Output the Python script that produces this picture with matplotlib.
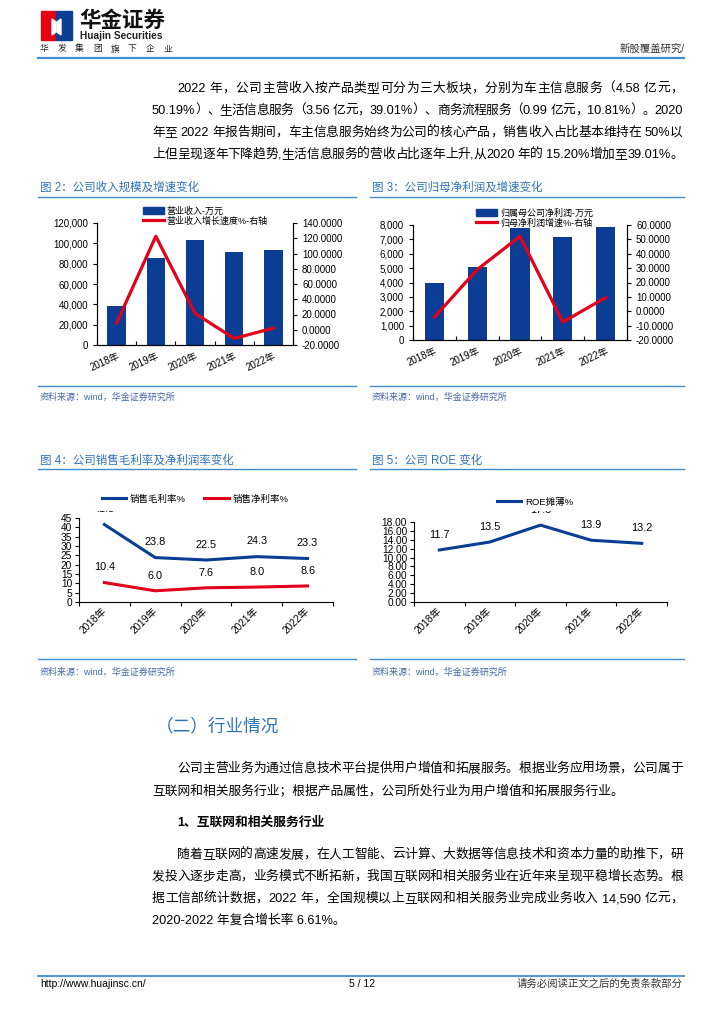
import re
import numpy as np
import matplotlib
matplotlib.use("Agg")
import matplotlib.pyplot as plt
from matplotlib.patches import Rectangle, Polygon, Patch
from matplotlib.lines import Line2D
from matplotlib.font_manager import FontProperties
from matplotlib.transforms import Bbox

FAMILY = ["Liberation Sans", "Noto Sans CJK SC", "DejaVu Sans"]
plt.rcParams["font.family"] = FAMILY
plt.rcParams["axes.unicode_minus"] = False

# ---- data ----
years = ["2018年", "2019年", "2020年", "2021年", "2022年"]
revenue = [38200, 85100, 103000, 91100, 93100]          # 营业收入-万元
revenue_growth = [8.8, 122.6, 21.5, -11.4, 2.2]          # 营业收入增长速度%
net_profit = [3960, 5110, 7770, 7180, 7860]              # 归属母公司净利润-万元
profit_growth = [-4.1, 29.0, 52.1, -7.5, 9.5]            # 归母净利润增速%
gross_margin = [41.5, 23.8, 22.5, 24.3, 23.3]            # 销售毛利率%
net_margin = [10.4, 6.0, 7.6, 8.0, 8.6]                  # 销售净利率%
roe = [11.7, 13.5, 17.3, 13.9, 13.2]                     # ROE摊薄%

para_top = [
    "2022 年，公司主营收入按产品类型可分为三大板块，分别为车主信息服务（4.58 亿元，",
    "50.19%）、生活信息服务（3.56 亿元，39.01%）、商务流程服务（0.99 亿元，10.81%）。2020",
    "年至 2022 年报告期间，车主信息服务始终为公司的核心产品，销售收入占比基本维持在 50%以",
    "上但呈现逐年下降趋势,生活信息服务的营收占比逐年上升,从2020 年的 15.20%增加至39.01%。",
]
para_mid = [
    "公司主营业务为通过信息技术平台提供用户增值和拓展服务。根据业务应用场景，公司属于",
    "互联网和相关服务行业；根据产品属性，公司所处行业为用户增值和拓展服务行业。",
]
para_low = [
    "随着互联网的高速发展，在人工智能、云计算、大数据等信息技术和资本力量的助推下，研",
    "发投入逐步走高，业务模式不断拓新，我国互联网和相关服务业在近年来呈现平稳增长态势。根",
    "据工信部统计数据，2022 年，全国规模以上互联网和相关服务业完成业务收入 14,590 亿元，",
    "2020-2022 年复合增长率 6.61%。",
]

BAR_BLUE = "#0A3D93"
RED = "#E2001A"
LINE_BLUE = "#3E8ED3"
TITLE_BLUE = "#2F72B8"
SRC_BLUE = "#4467A8"

W, H = 724, 1024
fig = plt.figure(figsize=(W / 100, H / 100), dpi=100)
renderer = fig.canvas.get_renderer()


def txt(x, y, s, **kw):
    return fig.text(x / W, 1 - y / H, s, **kw)


def hline(x0, x1, y, color=LINE_BLUE, lw=1.3):
    fig.add_artist(Line2D([x0 / W, x1 / W], [1 - y / H] * 2, color=color, lw=lw))


def axes_px(l, t, r, b):
    return fig.add_axes([l / W, 1 - b / H, (r - l) / W, (b - t) / H])


def text_line(s, x0, y, x1=None, size=9.2, weight="normal", color="black"):
    prop = FontProperties(family=FAMILY, size=size, weight=weight)
    if x1 is None:
        txt(x0, y, s, fontproperties=prop, va="baseline", color=color)
        return
    # spread the tokens so the line fills x0..x1 (justified)
    tokens = re.findall(r"[0-9A-Za-z.,%\-/]+|.", s)
    widths = [renderer.get_text_width_height_descent(t, prop, ismath=False)[0] for t in tokens]
    gap = (x1 - x0 - sum(widths)) / (len(tokens) - 1)
    x = x0
    for t, w in zip(tokens, widths):
        txt(x, y, t, fontproperties=prop, va="baseline", color=color)
        x += w + gap


# ---- header ----
fig.add_artist(Rectangle((41 / W, 1 - 40 / H), 15 / W, 29 / H, color="#E60012", transform=fig.transFigure))
fig.add_artist(Rectangle((56 / W, 1 - 40 / H), 16 / W, 29 / H, color="#0B3F94", transform=fig.transFigure))
fig.add_artist(Polygon([(52 / W, 1 - 19 / H), (56 / W, 1 - 22 / H), (56 / W, 1 - 32 / H), (52 / W, 1 - 35 / H)],
                       closed=True, color="white", transform=fig.transFigure))
fig.add_artist(Polygon([(57 / W, 1 - 22 / H), (61 / W, 1 - 19 / H), (61 / W, 1 - 35 / H), (57 / W, 1 - 32 / H)],
                       closed=True, color="white", transform=fig.transFigure))
txt(79, 21, "华金证券", fontsize=15.5, fontweight="bold", va="center", color="#111111")
txt(80, 36, "Huajin Securities", fontsize=7.3, fontweight="bold", va="center", color="#222222")
for i, ch in enumerate("华发集团旗下企业"):
    txt(40 + i * 17.6, 49, ch, fontsize=6.3, va="center", color="#222222")
txt(685, 50, "新股覆盖研究/", fontsize=7.5, ha="right", va="center", color="#333333")
hline(38, 684, 58, lw=1.6)

# ---- top paragraph ----
for i, line in enumerate(para_top):
    x0 = 177 if i == 0 else 152
    text_line(line, x0, 92 + i * 22, 683)

# ---- chart titles ----
txt(40, 188, "图 2：公司收入规模及增速变化", fontsize=8.3, color=TITLE_BLUE, va="center")
txt(372, 188, "图 3：公司归母净利润及增速变化", fontsize=8.3, color=TITLE_BLUE, va="center")
hline(38, 356, 197, lw=1.0)
hline(370, 684, 197, lw=1.0)


def style_bar_axes(ax, ax2):
    for a in (ax, ax2):
        a.spines["top"].set_visible(False)
        for s in ("left", "right", "bottom"):
            a.spines[s].set_linewidth(0.8)
    ax.set_xlim(-0.5, 4.5)
    ax.set_xticks(np.arange(-0.5, 5, 1))
    ax.set_xticklabels([])
    ax.tick_params(axis="x", which="major", direction="in", length=3)
    ax.set_xticks(np.arange(5), minor=True)
    ax.set_xticklabels(years, minor=True, rotation=25, ha="right", rotation_mode="anchor", fontsize=7)
    ax.tick_params(axis="x", which="minor", length=0, pad=4)
    ax.tick_params(axis="y", labelsize=7, length=3)
    ax2.tick_params(axis="y", labelsize=7, length=3)


# chart 2
ax = axes_px(97, 223, 293, 345)
xs = np.arange(len(years))
ax.bar(xs, revenue, width=0.47, color=BAR_BLUE)
ax.set_ylim(0, 120000)
ax.set_yticks(np.arange(0, 120001, 20000))
ax.set_yticklabels([f"{v:,}" for v in range(0, 120001, 20000)])
ax2 = ax.twinx()
ax2.plot(xs, revenue_growth, color=RED, lw=2.3)
ax2.set_ylim(-20, 140)
ax2.set_yticks(np.arange(-20, 141, 20))
ax2.set_yticklabels([f"{v:.4f}" for v in range(-20, 141, 20)])
style_bar_axes(ax, ax2)
fig.legend(handles=[Patch(color=BAR_BLUE), Line2D([], [], color=RED, lw=2.3)],
           labels=["营业收入-万元", "营业收入增长速度%-右轴"], loc="upper left",
           bbox_to_anchor=(138 / W, 1 - 202 / H), frameon=False, fontsize=6.5,
           handlelength=2.4, handleheight=0.7, labelspacing=0.05, borderpad=0, handletextpad=0.3)

# chart 3
ax = axes_px(413, 225, 627, 340)
ax.bar(xs, net_profit, width=0.45, color=BAR_BLUE)
ax.set_ylim(0, 8000)
ax.set_yticks(np.arange(0, 8001, 1000))
ax.set_yticklabels([f"{v:,}" for v in range(0, 8001, 1000)])
ax2 = ax.twinx()
ax2.plot(xs, profit_growth, color=RED, lw=2.3)
ax2.set_ylim(-20, 60)
ax2.set_yticks(np.arange(-20, 61, 10))
ax2.set_yticklabels([f"{v:.4f}" for v in range(-20, 61, 10)])
style_bar_axes(ax, ax2)
fig.legend(handles=[Patch(color=BAR_BLUE), Line2D([], [], color=RED, lw=2.3)],
           labels=["归属母公司净利润-万元", "归母净利润增速%-右轴"], loc="upper left",
           bbox_to_anchor=(471 / W, 1 - 204 / H), frameon=False, fontsize=6.5,
           handlelength=2.4, handleheight=0.7, labelspacing=0.05, borderpad=0, handletextpad=0.3)

# sources
for x0, x1 in ((38, 356), (370, 684)):
    hline(x0, x1, 386, lw=1.0)
    txt(x0 + 2, 397, "资料来源：wind，华金证券研究所", fontsize=6.5, color=SRC_BLUE, va="center")

# ---- chart 4 / 5 ----
txt(40, 461, "图 4：公司销售毛利率及净利润率变化", fontsize=8.3, color=TITLE_BLUE, va="center")
txt(372, 461, "图 5：公司 ROE 变化", fontsize=8.3, color=TITLE_BLUE, va="center")
hline(38, 356, 469, lw=1.0)
hline(370, 684, 469, lw=1.0)

# labels that sit above the plot get cut off at this height, as in the source
clip = Bbox.from_extents(0, 0, W, H - 511)


def style_line_axes(ax):
    ax.spines["top"].set_visible(False)
    ax.spines["right"].set_visible(False)
    ax.spines["left"].set_linewidth(0.8)
    ax.spines["bottom"].set_linewidth(0.8)
    ax.set_xlim(-0.5, 4.5)
    ax.set_xticks(np.arange(-0.5, 5, 1))
    ax.set_xticklabels([])
    ax.tick_params(axis="x", which="major", direction="out", length=3)
    ax.set_xticks(np.arange(5), minor=True)
    ax.set_xticklabels(years, minor=True, rotation=45, ha="right", va="center",
                       rotation_mode="anchor", fontsize=7.3)
    ax.tick_params(axis="x", which="minor", length=0, pad=5)
    ax.tick_params(axis="y", labelsize=7.3, length=3, pad=2)


def add_labels(ax, values):
    for x, v in zip(xs, values):
        t = ax.annotate(f"{v:.1f}", (x, v), xytext=(0, 11), textcoords="offset points",
                        ha="center", va="center", fontsize=7.8, annotation_clip=False)
        t.set_clip_on(True)
        t.set_clip_box(clip)


ax = axes_px(79, 518, 333, 602)
ax.plot(xs, gross_margin, color=BAR_BLUE, lw=2.2)
ax.plot(xs, net_margin, color=RED, lw=2.2)
ax.set_ylim(0, 45)
ax.set_yticks(np.arange(0, 46, 5))
style_line_axes(ax)
add_labels(ax, gross_margin)
add_labels(ax, net_margin)
fig.legend(handles=[Line2D([], [], color=BAR_BLUE, lw=2.2), Line2D([], [], color=RED, lw=2.2)],
           labels=["销售毛利率%", "销售净利率%"], loc="center left", ncol=2,
           bbox_to_anchor=(97 / W, 1 - 499 / H), frameon=False, fontsize=6.8,
           handlelength=2.6, columnspacing=1.9, borderpad=0, handletextpad=0.4)

ax = axes_px(414, 522, 667, 602)
ax.plot(xs, roe, color=BAR_BLUE, lw=2.2)
ax.set_ylim(0, 18)
ax.set_yticks(np.arange(0, 19, 2))
ax.set_yticklabels([f"{v:.2f}" for v in range(0, 19, 2)])
style_line_axes(ax)
add_labels(ax, roe)
fig.legend(handles=[Line2D([], [], color=BAR_BLUE, lw=2.2)], labels=["ROE摊薄%"],
           loc="center left", bbox_to_anchor=(492 / W, 1 - 502 / H), frameon=False,
           fontsize=6.8, handlelength=2.6, borderpad=0, handletextpad=0.4)

for x0, x1 in ((38, 356), (370, 684)):
    hline(x0, x1, 659, lw=1.0)
    txt(x0 + 2, 672, "资料来源：wind，华金证券研究所", fontsize=6.5, color=SRC_BLUE, va="center")

# ---- lower text ----
txt(156, 727, "（二）行业情况", fontsize=12.7, color=TITLE_BLUE, va="center")
text_line(para_mid[0], 177, 772, 683)
text_line(para_mid[1], 152, 794)
text_line("1、互联网和相关服务行业", 177, 826, weight="bold")
for i, line in enumerate(para_low):
    x0 = 177 if i == 0 else 152
    x1 = 683 if i < len(para_low) - 1 else None
    text_line(line, x0, 858 + i * 22, x1)

# ---- footer ----
hline(38, 684, 976, lw=1.3)
txt(40, 984, "http://www.huajinsc.cn/", fontsize=7.5, va="center")
txt(362, 984, "5 / 12", fontsize=7.5, ha="center", va="center")
txt(683, 984, "请务必阅读正文之后的免责条款部分", fontsize=7.5, ha="right", va="center", color="#333333")

fig.savefig("out.png", dpi=100)
